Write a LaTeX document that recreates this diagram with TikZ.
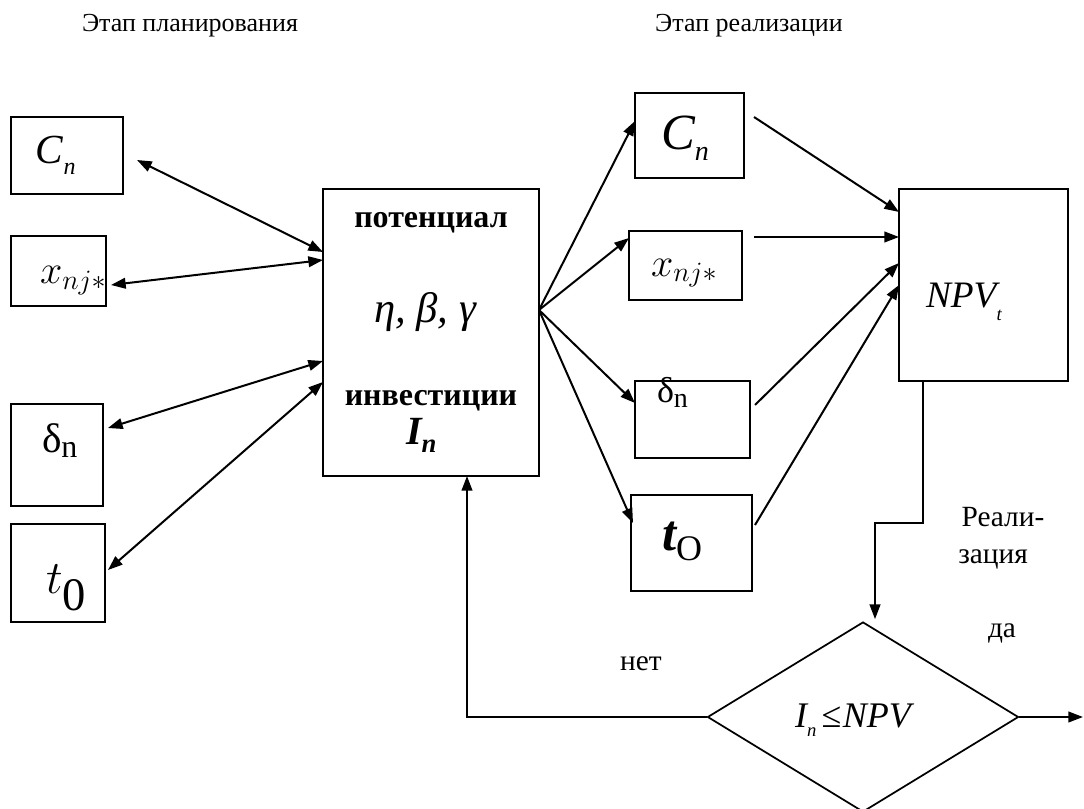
\RequirePackage{fix-cm}
\documentclass[tikz,border=0pt]{standalone}
\usepackage{fontspec}
\setmainfont{Liberation Serif}
\usetikzlibrary{arrows.meta,calc,shapes.geometric}
\begin{document}
\begin{tikzpicture}[x=0.75pt,y=-0.75pt,
  box/.style={draw,line width=1.3pt,inner sep=0pt,outer sep=0pt},
  con/.style={line width=1.5pt},
  arr/.style={con,-{Triangle[length=11pt,width=8pt]}},
  darr/.style={con,{Triangle[length=11pt,width=8pt]}-{Triangle[length=11pt,width=8pt]}},
  txt/.style={inner sep=0pt,outer sep=0pt},
  hdr/.style={txt,font=\fontsize{19.5}{22}\selectfont},
  lbl/.style={txt,font=\fontsize{22}{26}\selectfont},
  bigm/.style={txt,font=\fontsize{30}{32}\selectfont},
  bld/.style={txt,font=\fontsize{24}{26}\selectfont\bfseries},
]
\useasboundingbox (0,0) rectangle (1084,809);

% headers
\node[hdr,anchor=base] (h1) at (190,32) {Этап планирования};
\node[hdr,anchor=base] (h2) at (749,32) {Этап реализации};

% left boxes
\node[box,minimum width=84pt,minimum height=57.75pt] (LC) at (67,155.5) {};
\node[box,minimum width=71.25pt,minimum height=52.5pt] (Lx) at (58.5,271) {};
\node[box,minimum width=69pt,minimum height=76.5pt] (Ld) at (57,455) {};
\node[box,minimum width=70.5pt,minimum height=73.5pt] (Lt) at (58,573) {};

\node[txt,anchor=base west,font=\fontsize{31}{32}\selectfont\itshape] (tLC) at (36,164) {C\raisebox{-8pt}{\fontsize{18}{18}\selectfont n}};
\node[bigm,anchor=base west] (tLx) at (40,283) {$x_{nj*}$};
\node[txt,anchor=base west,font=\fontsize{31}{32}\selectfont] (tLd) at (42,452) {δ\raisebox{-4pt}{\fontsize{24}{24}\selectfont n}};
\node[txt,anchor=base west,font=\fontsize{35}{36}\selectfont] (tLt) at (46,593) {$t$\raisebox{-13pt}{0}};

% centre box
\node[box,minimum width=162pt,minimum height=215.25pt] (P) at (431,332.5) {};
\node[bld,anchor=base] (tP1) at (431,228) {потенциал};
\node[txt,anchor=base,font=\fontsize{32}{34}\selectfont\itshape] (tP2) at (425,322) {η, β, γ};
\node[bld,anchor=base] (tP3) at (431,405) {инвестиции};
\node[txt,anchor=base west,font=\fontsize{30}{30}\selectfont\bfseries\itshape] (tP4) at (406,444) {I\raisebox{-6pt}{\fontsize{20}{20}\selectfont n}};

% right boxes
\node[box,minimum width=81.75pt,minimum height=63.75pt] (RC) at (689.5,135.5) {};
\node[box,minimum width=84.75pt,minimum height=51.75pt] (Rx) at (685.5,265.5) {};
\node[box,minimum width=86.25pt,minimum height=57.75pt] (Rd) at (692.5,419.5) {};
\node[box,minimum width=90.75pt,minimum height=72pt] (Rt) at (691.5,543) {};

\node[txt,anchor=base west,font=\fontsize{38}{38}\selectfont\itshape] (tRC) at (661,150) {C\raisebox{-8pt}{\fontsize{21}{21}\selectfont n}};
\node[bigm,anchor=base west] (tRx) at (651,276) {$x_{nj*}$};
\node[txt,anchor=base west,font=\fontsize{27}{28}\selectfont] (tRd) at (657,402) {δ\raisebox{-4pt}{\fontsize{21}{21}\selectfont n}};
\node[txt,anchor=base west,font=\fontsize{38}{38}\selectfont\bfseries\itshape] (tRt) at (662,550) {t\raisebox{-8pt}{\fontsize{27}{27}\selectfont\mdseries\upshape O}};

% NPV box
\node[box,minimum width=126.75pt,minimum height=144pt] (N) at (983.5,285) {};
\node[txt,anchor=base west,font=\fontsize{28}{28}\selectfont\itshape] (tN) at (926,307) {NPV\raisebox{-10pt}{\fontsize{14}{14}\selectfont t}};

% decision
\node[draw,diamond,line width=1.3pt,inner sep=0pt,minimum width=233.25pt,minimum height=142.5pt] (D) at (863,717) {};
\node[txt,anchor=base west,font=\fontsize{27}{28}\selectfont] (tD) at (795,727) {\itshape I\raisebox{-7pt}{\fontsize{14}{14}\selectfont n}\upshape\kern4pt≤\kern1pt\itshape NPV};

% labels
\node[lbl,anchor=base] (l1) at (1003,526) {Реали-};
\node[lbl,anchor=base] (l2) at (993,563) {зация};
\node[lbl,anchor=base] (l3) at (1002,637) {да};
\node[lbl,anchor=base] (l4) at (641,670) {нет};

% left double arrows
\draw[darr] ($(LC.east)+(14,4.5)$) -- ($(P.north west)+(0,63)$);
\draw[darr] ($(Lx.east)+(5,14)$) -- ($(P.north west)+(0,71)$);
\draw[darr] ($(Ld.east)+(5,-27)$) -- ($(P.north west)+(0,172)$);
\draw[darr] ($(Lt.east)+(3,-3)$) -- ($(P.north west)+(0,193)$);

% fan out
\coordinate (src) at ($(P.east)+(0,-22.5)$);
\draw[arr] (src) -- ($(RC.west)+(0,-14.5)$);
\draw[arr] (src) -- ($(Rx.west)+(0,-27.5)$);
\draw[arr] (src) -- ($(Rd.west)+(0,-16.5)$);
\draw[arr] (src) -- ($(Rt.west)+(2,-20)$);

% into NPV
\draw[arr] ($(RC.east)+(10,-18.5)$) -- ($(N.west)+(0,-73)$);
\draw[arr] ($(Rx.east)+(12,-28.5)$) -- ($(N.west)+(0,-48)$);
\draw[arr] ($(Rd.east)+(5,-14.5)$) -- ($(N.west)+(0,-22)$);
\draw[arr] ($(Rt.east)+(3,-18)$) -- (N.west);

% realization path
\draw[arr] ($(N.south)+(-60.5,0)$) -- ++(0,142) -- ++(-48,0) -- ($(D.north)+(12,-2)$);

% feedback
\draw[arr] (D.west) -| ($(P.south)+(36,0)$);

% output
\coordinate (out) at (1083,717);
\draw[arr] (D.east) -- (out);
\end{tikzpicture}
\end{document}
